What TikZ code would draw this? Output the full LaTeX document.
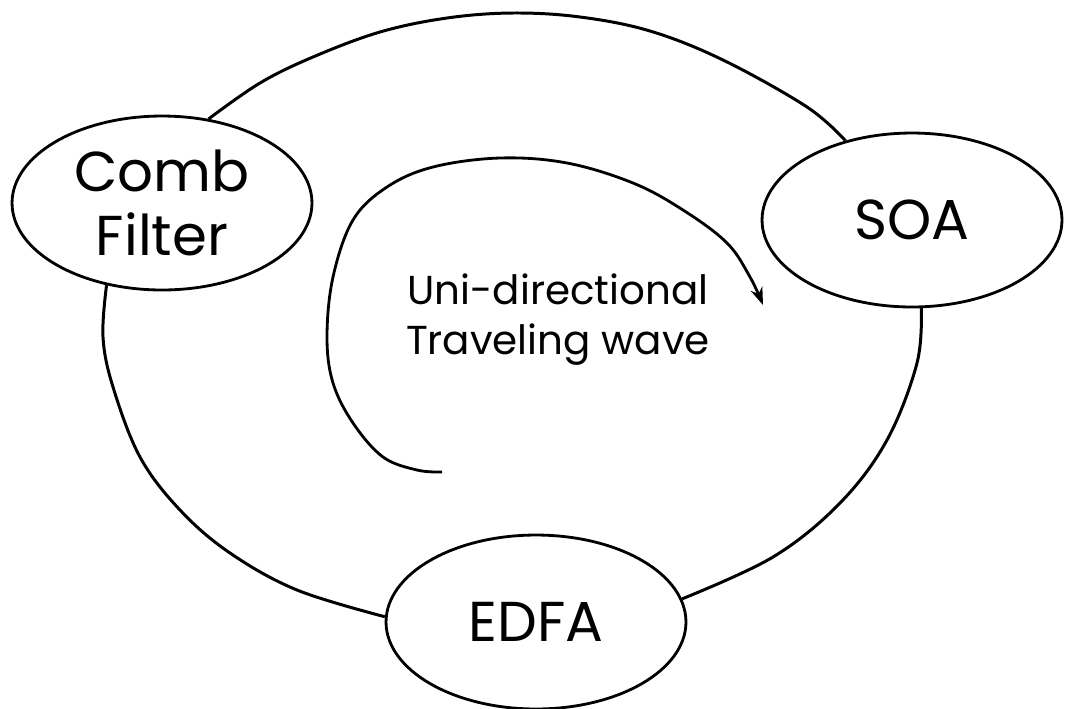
\documentclass[tikz,border=0pt]{standalone}
\usepackage{fontspec}
\setmainfont{Poppins}
\usetikzlibrary{arrows.meta,shapes.geometric}

\begin{document}
\begin{tikzpicture}[x=0.02cm, y=-0.02cm,
    block/.style={draw, ellipse, line width=1.6pt, fill=white, align=center,
                  minimum width=6cm, minimum height=3.48cm, inner sep=0pt,
                  font=\fontsize{32}{36}\selectfont},
    fiber/.style={line width=1.7pt},
    flow/.style={-{Stealth[length=10pt,width=7pt]}, line width=1.6pt},
    lbl/.style={align=center, font=\fontsize{23}{28.5}\selectfont}]

    \useasboundingbox (0,0) rectangle (1067,708);

    \node[block] (comb) at (162,203) {Comb\\Filter};
    \node[block] (soa)  at (912,220) {SOA};
    \node[block] (edfa) at (536,622) {EDFA};

    % fibre ring between the three blocks
    \draw[fiber] plot[smooth, tension=0.6] coordinates {(comb.61) (260,83) (313,57) (380,32)
        (447,18) (513,13) (580,17) (650,31) (723,60) (807,107) (soa.130)};
    \draw[fiber] plot[smooth, tension=0.6] coordinates {(soa.276) (917,363) (887,440)
        (840,503) (773,557) (edfa.9)};
    \draw[fiber] plot[smooth, tension=0.6] coordinates {(edfa.178) (297,590) (230,553)
        (180,510) (140,457) (113,387) (103,337) (comb.236)};

    % direction of propagation
    \coordinate (wavestart) at (442,472);
    \coordinate (wavetip) at (763,305);
    \draw[flow] plot[smooth, tension=0.6] coordinates {(wavestart) (417,470) (383,457)
        (353,423) (333,383) (327,337) (333,277) (353,220) (387,187) (433,167) (500,158)
        (567,163) (633,183) (683,210) (727,243) (750,277) (wavetip)};

    \node[lbl] (wave) at (558,320) {Uni-directional\\Traveling wave};
\end{tikzpicture}
\end{document}
